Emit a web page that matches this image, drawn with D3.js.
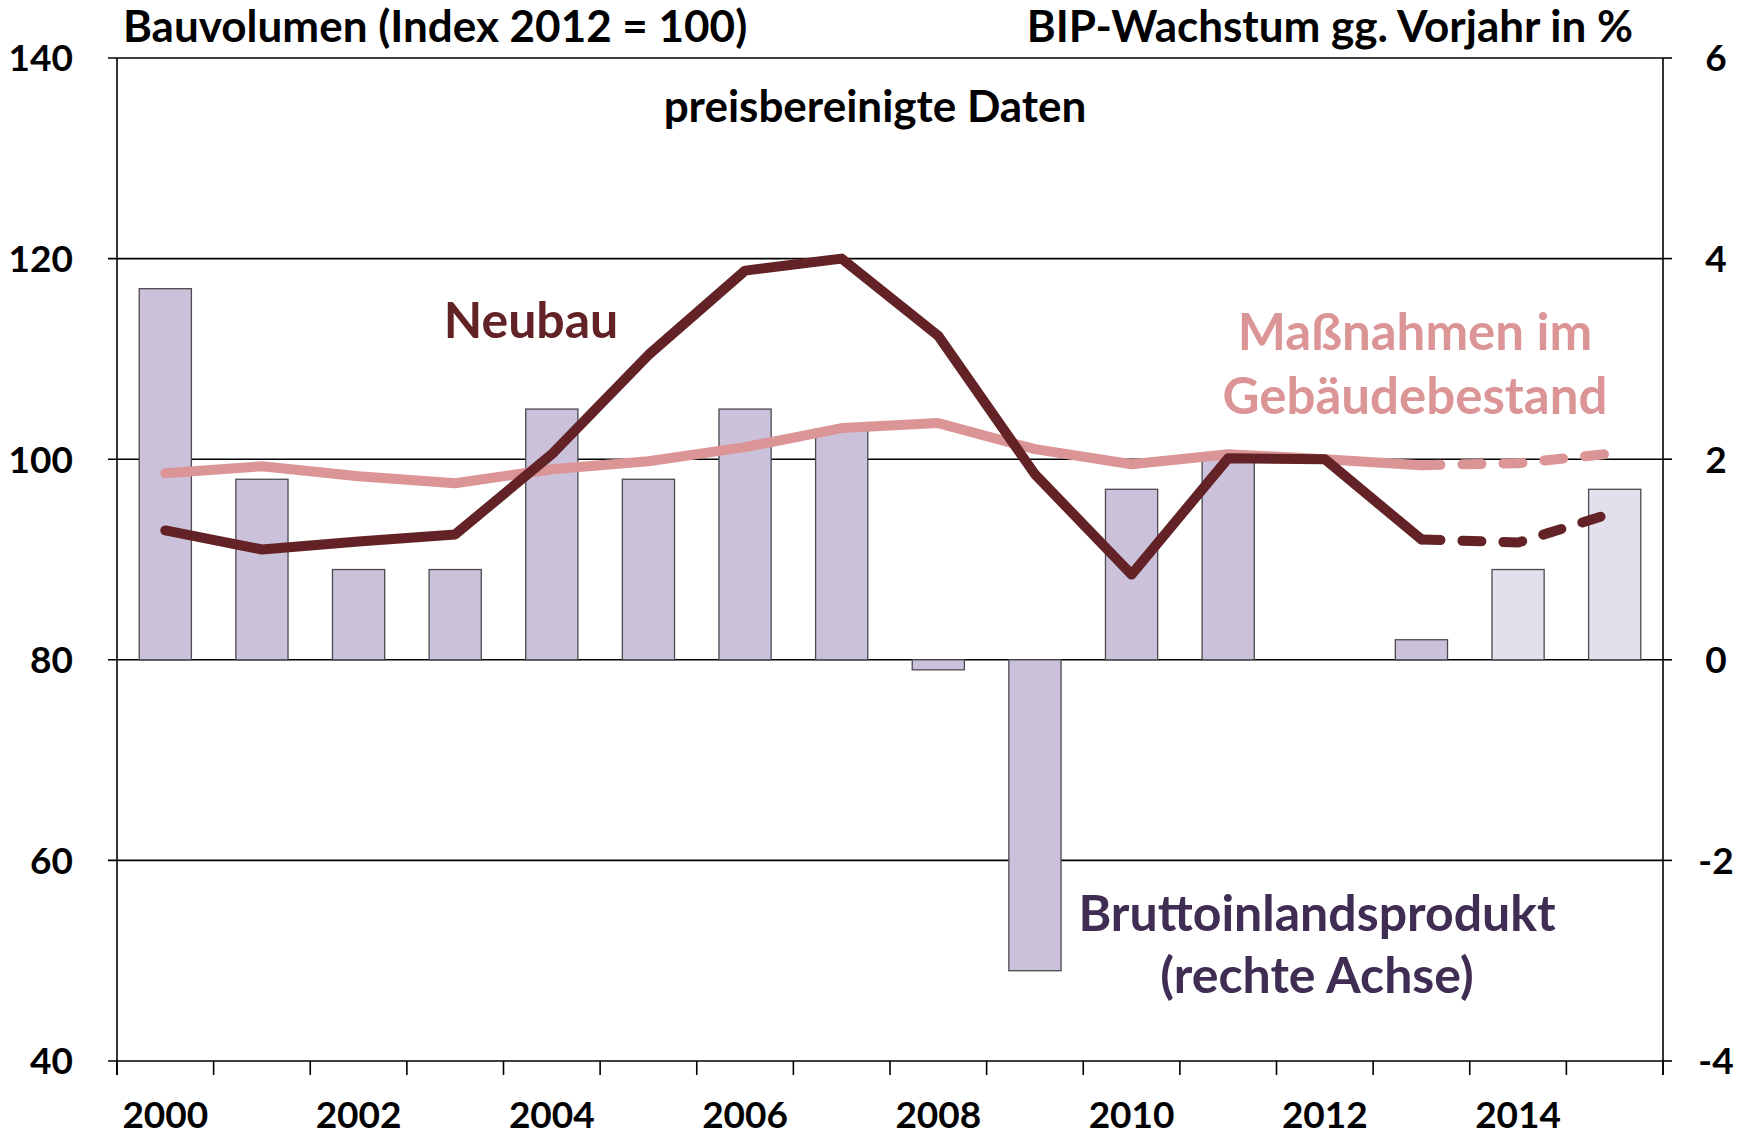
<!DOCTYPE html>
<html>
<head>
<meta charset="utf-8">
<script src="https://cdn.jsdelivr.net/npm/d3@7"></script>
<style>
  body { margin: 0; background: #fff; }
  svg text { font-family: Lato, "Open Sans", sans-serif; font-weight: 700; }
</style>
</head>
<body>
<svg id="chart" width="1752" height="1136"></svg>
<script>
// data
var years = [2000, 2001, 2002, 2003, 2004, 2005, 2006, 2007, 2008, 2009, 2010, 2011, 2012, 2013, 2014, 2015];
var gdp = [3.7, 1.8, 0.9, 0.9, 2.5, 1.8, 2.5, 2.3, -0.1, -3.1, 1.7, 2.0, 0, 0.2, 0.9, 1.7];
var gdpForecast = [false, false, false, false, false, false, false, false, false, false, false, false, false, false, true, true];
var neubau = [92.9, 91.0, 91.8, 92.5, 100.5, 110.4, 118.8, 120.0, 112.3, 98.5, 88.5, 100.1, 100.0, 92.0, 91.7, 94.7];
var bestand = [98.6, 99.3, 98.3, 97.6, 99.0, 99.8, 101.2, 103.1, 103.6, 101.0, 99.5, 100.5, 100.0, 99.4, 99.6, 100.6];
var dashFrom = 2013;
var leftTicks = [40, 60, 80, 100, 120, 140];
var rightTicks = [-4, -2, 0, 2, 4, 6];
var yearLabels = [2000, 2002, 2004, 2006, 2008, 2010, 2012, 2014];

var svg = d3.select("#chart");
var margin = {top: 58, right: 89, bottom: 75, left: 117};
var width = +svg.attr("width") - margin.left - margin.right,
    height = +svg.attr("height") - margin.top - margin.bottom;

var x = d3.scaleBand().domain(years).range([0, width]).paddingInner(0.46).paddingOuter(0.23);
var xc = function(d) { return x(d) + x.bandwidth() / 2; };
var yl = d3.scaleLinear().domain([40, 140]).range([height, 0]);
var yr = d3.scaleLinear().domain([-4, 6]).range([height, 0]);

var maroon = "#632326", pink = "#db9596", purple = "#3f2d54";

var g = svg.append("g").attr("transform", "translate(" + margin.left + "," + margin.top + ")");

// gridlines
g.append("g")
  .selectAll("line").data(leftTicks).enter().append("line")
  .attr("x1", -9).attr("x2", width)
  .attr("y1", function(d) { return yl(d); }).attr("y2", function(d) { return yl(d); })
  .attr("stroke", "#000").attr("stroke-width", 1.6);

// bars (right axis)
g.append("g").selectAll("rect").data(years).enter().append("rect")
  .attr("x", function(d) { return x(d); })
  .attr("width", x.bandwidth())
  .attr("y", function(d, i) { return yr(Math.max(0, gdp[i])); })
  .attr("height", function(d, i) { return Math.abs(yr(gdp[i]) - yr(0)); })
  .attr("fill", function(d, i) { return gdpForecast[i] ? "#e4dfec" : "#cbc1db"; })
  .attr("stroke", function(d, i) { return gdp[i] === 0 ? "none" : "#4a4a50"; })
  .attr("stroke-width", 1.3);

// axes lines
g.append("line").attr("x1", 0).attr("x2", 0).attr("y1", 0).attr("y2", height + 14)
  .attr("stroke", "#000").attr("stroke-width", 1.6);
g.append("line").attr("x1", width).attr("x2", width).attr("y1", 0).attr("y2", height + 14)
  .attr("stroke", "#000").attr("stroke-width", 1.6);
g.append("g").selectAll("line").data(rightTicks).enter().append("line")
  .attr("x1", width).attr("x2", width + 9)
  .attr("y1", function(d) { return yr(d); }).attr("y2", function(d) { return yr(d); })
  .attr("stroke", "#000").attr("stroke-width", 1.6);

// x axis ticks between categories
var step = x.step();
g.append("g").selectAll("line").data(d3.range(years.length + 1)).enter().append("line")
  .attr("x1", function(d) { return d * step; }).attr("x2", function(d) { return d * step; })
  .attr("y1", height).attr("y2", height + 14)
  .attr("stroke", "#000").attr("stroke-width", 1.6);

// lines
var line = d3.line()
  .x(function(d) { return xc(d.year); })
  .y(function(d) { return yl(d.v); });

function drawSeries(vals, color) {
  var pts = years.map(function(yv, i) { return {year: yv, v: vals[i]}; });
  var solid = pts.filter(function(d) { return d.year <= dashFrom; });
  var dashed = pts.filter(function(d) { return d.year >= dashFrom; });
  g.append("path").attr("d", line(solid))
    .attr("fill", "none").attr("stroke", color).attr("stroke-width", 10)
    .attr("stroke-linejoin", "round").attr("stroke-linecap", "round");
  g.append("path").attr("d", line(dashed))
    .attr("fill", "none").attr("stroke", color).attr("stroke-width", 10)
    .attr("stroke-linecap", "round").attr("stroke-dasharray", "19 22");
}
drawSeries(bestand, pink);
drawSeries(neubau, maroon);

// tick labels
g.append("g").selectAll("text").data(leftTicks).enter().append("text")
  .attr("x", -44).attr("y", function(d) { return yl(d); }).attr("dy", "0.36em")
  .attr("text-anchor", "end").attr("font-size", 37).text(function(d) { return d; });
g.append("g").selectAll("text").data(rightTicks).enter().append("text")
  .attr("x", width + 53).attr("y", function(d) { return yr(d); }).attr("dy", "0.36em")
  .attr("text-anchor", "middle").attr("font-size", 37).text(function(d) { return d; });
g.append("g").selectAll("text").data(yearLabels).enter().append("text")
  .attr("x", function(d) { return xc(d); }).attr("y", height + 67)
  .attr("text-anchor", "middle").attr("font-size", 37).text(function(d) { return d; });

// titles and annotations
svg.append("text").attr("x", 123).attr("y", 42).attr("font-size", 44).text("Bauvolumen (Index 2012 = 100)");
svg.append("text").attr("x", 1633).attr("y", 42).attr("text-anchor", "end").attr("font-size", 44).text("BIP-Wachstum gg. Vorjahr in %");
svg.append("text").attr("x", 875).attr("y", 122).attr("text-anchor", "middle").attr("font-size", 44).text("preisbereinigte Daten");
svg.append("text").attr("x", 531).attr("y", 338).attr("text-anchor", "middle").attr("font-size", 50).attr("fill", maroon).text("Neubau");
svg.append("text").attr("x", 1415).attr("y", 350).attr("text-anchor", "middle").attr("font-size", 51).attr("fill", pink).text("Maßnahmen im");
svg.append("text").attr("x", 1415).attr("y", 414).attr("text-anchor", "middle").attr("font-size", 51).attr("fill", pink).text("Gebäudebestand");
svg.append("text").attr("x", 1317).attr("y", 931).attr("text-anchor", "middle").attr("font-size", 50).attr("fill", purple).text("Bruttoinlandsprodukt");
svg.append("text").attr("x", 1317).attr("y", 993).attr("text-anchor", "middle").attr("font-size", 50).attr("fill", purple).text("(rechte Achse)");
</script>
</body>
</html>
